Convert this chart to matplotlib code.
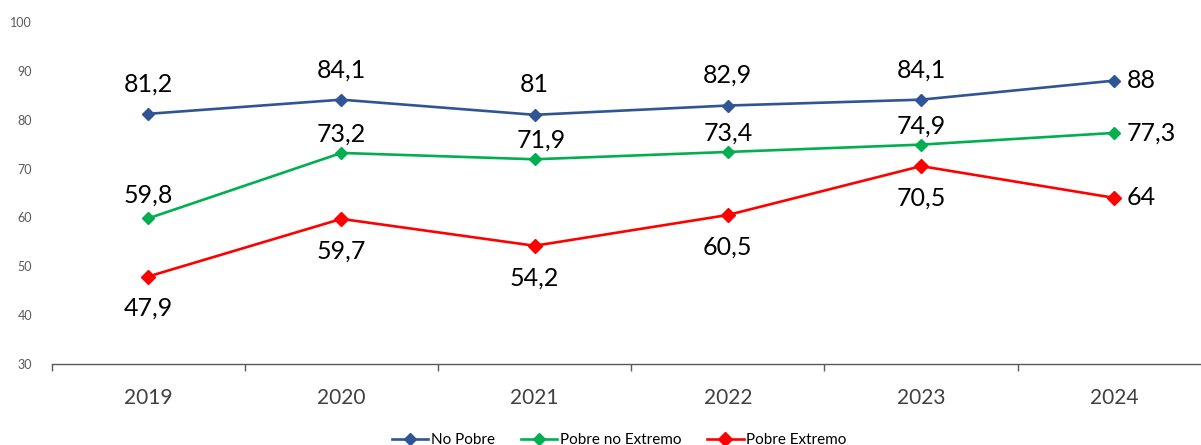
import matplotlib
matplotlib.use("Agg")
import matplotlib.pyplot as plt
import numpy as np

# Data
years = ["2019", "2020", "2021", "2022", "2023", "2024"]
no_pobre = [81.2, 84.1, 81, 82.9, 84.1, 88]
pobre_no_extremo = [59.8, 73.2, 71.9, 73.4, 74.9, 77.3]
pobre_extremo = [47.9, 59.7, 54.2, 60.5, 70.5, 64]

series_names = ["No Pobre", "Pobre no Extremo", "Pobre Extremo"]
colors = ["#2F5597", "#00B050", "#FF0000"]

plt.rcParams["font.family"] = ["Lato", "DejaVu Sans"]

fig = plt.figure(figsize=(12.01, 4.45), dpi=100)
ax = fig.add_axes([0.0429, 0.182, 0.9654, 0.7686])

x = np.arange(len(years))


def fmt(v):
    # comma decimal separator
    s = ("%.1f" % v).rstrip("0").rstrip(".")
    return s.replace(".", ",")


all_series = [no_pobre, pobre_no_extremo, pobre_extremo]
# label offsets in pixels (above / below), last point goes to the right
label_dy = [30, 19, -32]

for vals, name, col, dy in zip(all_series, series_names, colors, label_dy):
    ms = 7 if col == "#FF0000" else 6.5
    ax.plot(x, vals, color=col, linewidth=1.9, marker="D", markersize=ms,
            label=name)
    for i, v in enumerate(vals):
        if i == len(vals) - 1:
            ax.annotate(fmt(v), (x[i], v), xytext=(12, 0),
                        textcoords="offset pixels", ha="left", va="center",
                        fontsize=18, color="black")
        else:
            dx = 7 if (col == "#00B050" and i == 2) else 0
            ddy = 4 if (col == "#00B050" and i == 0) else 0
            ax.annotate(fmt(v), (x[i], v), xytext=(dx, dy + ddy),
                        textcoords="offset pixels", ha="center",
                        va="center", fontsize=18, color="black")

# Axes formatting
ax.set_xlim(-0.5, len(years) - 0.5)
ax.set_ylim(30, 100)
ax.set_yticks(range(30, 101, 10))
ax.set_xticks(x)
ax.set_xticklabels(years)
ax.set_xticks(np.arange(-0.5, len(years), 1), minor=True)

for side in ["top", "right", "left"]:
    ax.spines[side].set_visible(False)
ax.spines["bottom"].set_color("#595959")
ax.spines["bottom"].set_linewidth(1.0)

ax.tick_params(axis="y", length=0, pad=14, labelsize=9, labelcolor="#595959")
ax.tick_params(axis="x", which="major", length=0, pad=17, labelsize=15,
               labelcolor="#404040")
ax.tick_params(axis="x", which="minor", length=5, width=1.0,
               color="#595959", direction="out")

fig.legend(loc="center", bbox_to_anchor=(619 / 1201, 1 - 440 / 445),
           ncol=3, frameon=False, fontsize=11, handlelength=2.4,
           columnspacing=1.7, handletextpad=0.15)

fig.savefig("out.png", dpi=100)
